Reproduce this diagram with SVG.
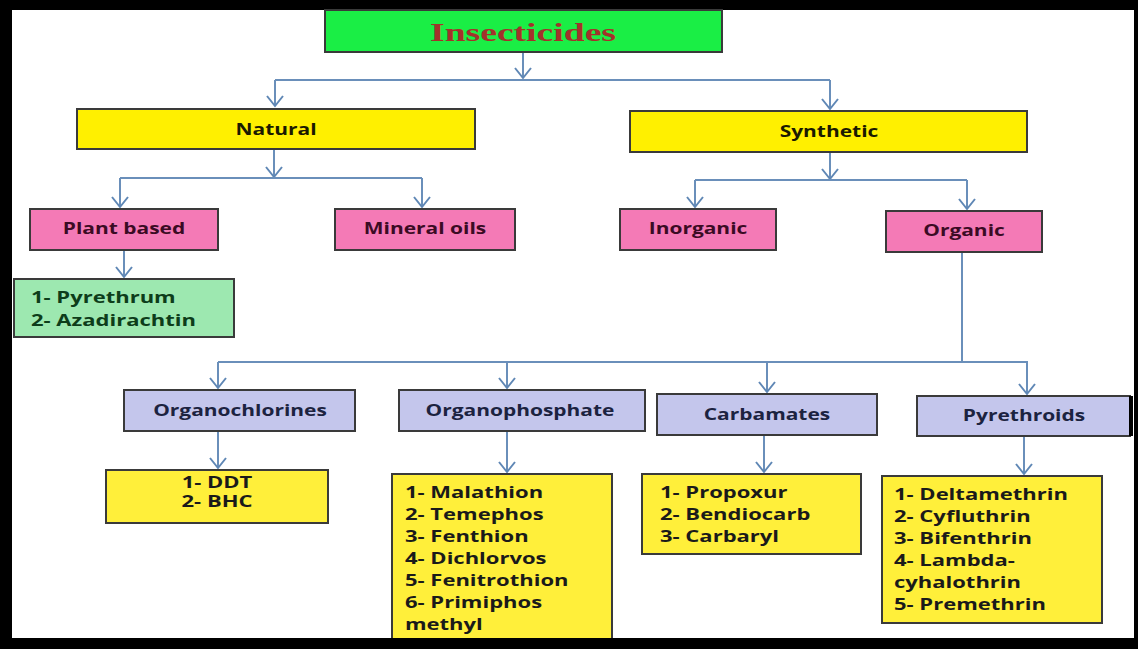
<svg xmlns="http://www.w3.org/2000/svg" width="1138" height="649" viewBox="0 0 1138 649">
<style>
.box{stroke:#3a3a3a;stroke-width:2}
.title{fill:#1aee45}
.yel{fill:#fff000}
.pink{fill:#f47ab6}
.lgreen{fill:#9de8b0}
.lav{fill:#c4c6ec}
.list{fill:#ffef3a}
.lbl{font-family:"Open Sans","Liberation Sans",sans-serif;font-weight:700;font-size:16.5px}
.lst{font-family:"Open Sans","Liberation Sans",sans-serif;font-weight:700;font-size:15.5px}
.c{text-anchor:middle}
.conn{stroke:#6a8fba;stroke-width:2;fill:none}
.arr{marker-end:url(#ah)}
</style>
<defs>
<marker id="ah" markerWidth="24" markerHeight="24" viewBox="-12 -12 24 24" refX="0" refY="0" orient="auto" markerUnits="userSpaceOnUse">
<path d="M-10,-8 L0,0 L-10,8" fill="none" stroke="#5f87b5" stroke-width="2"/>
</marker>
</defs>
<rect x="0" y="0" width="1138" height="649" fill="#000"/>
<rect x="12" y="10" width="1122" height="628" fill="#fff"/>

<g id="connectors">
<path class="conn arr" d="M523,52 V78"/>
<path class="conn" d="M275,80 H830"/>
<path class="conn arr" d="M275,80 V106"/>
<path class="conn arr" d="M830,80 V109"/>
<path class="conn arr" d="M274,149 V177"/>
<path class="conn" d="M120,178 H422"/>
<path class="conn arr" d="M120,178 V207"/>
<path class="conn arr" d="M422,178 V207"/>
<path class="conn arr" d="M830,152 V179"/>
<path class="conn" d="M695,180 H967"/>
<path class="conn arr" d="M695,180 V207"/>
<path class="conn arr" d="M967,180 V209"/>
<path class="conn arr" d="M124,250 V277"/>
<path class="conn" d="M962,252 V362"/>
<path class="conn" d="M218,362 H1028"/>
<path class="conn arr" d="M218,362 V388"/>
<path class="conn arr" d="M507,362 V388"/>
<path class="conn arr" d="M767,362 V392"/>
<path class="conn arr" d="M1027,362 V394"/>
<path class="conn arr" d="M218,431 V468"/>
<path class="conn arr" d="M507,431 V472"/>
<path class="conn arr" d="M764,435 V472"/>
<path class="conn arr" d="M1024,436 V474"/>
</g>

<g id="insecticides">
<rect class="box title" x="325" y="10" width="397" height="42"/>
<text x="523" y="41" text-anchor="middle" textLength="186" lengthAdjust="spacingAndGlyphs" font-family="Liberation Serif, serif" font-weight="700" font-size="25" fill="#a3322b">Insecticides</text>
</g>

<g id="natural">
<rect class="box yel" x="77" y="109" width="398" height="40"/>
<text class="lbl c" fill="#1a1a00" transform="translate(276,135) scale(1.27,1)">Natural</text>
</g>

<g id="synthetic">
<rect class="box yel" x="630" y="111" width="397" height="41"/>
<text class="lbl c" fill="#1a1a00" transform="translate(829,137) scale(1.27,1)">Synthetic</text>
</g>

<g id="plant-based">
<rect class="box pink" x="30" y="209" width="188" height="41"/>
<text class="lbl c" fill="#3b0b24" transform="translate(124,234) scale(1.27,1)">Plant based</text>
</g>

<g id="mineral-oils">
<rect class="box pink" x="335" y="209" width="180" height="41"/>
<text class="lbl c" fill="#3b0b24" transform="translate(425,234) scale(1.27,1)">Mineral oils</text>
</g>

<g id="inorganic">
<rect class="box pink" x="620" y="209" width="156" height="41"/>
<text class="lbl c" fill="#3b0b24" transform="translate(698,234) scale(1.27,1)">Inorganic</text>
</g>

<g id="organic">
<rect class="box pink" x="886" y="211" width="156" height="41"/>
<text class="lbl c" fill="#3b0b24" transform="translate(964,236) scale(1.27,1)">Organic</text>
</g>

<g id="plant-list">
<rect class="box lgreen" x="14" y="279" width="220" height="58"/>
<text class="lst" fill="#0d3d1a" transform="translate(31,0) scale(1.42,1)"><tspan x="0" y="303">1- Pyrethrum</tspan><tspan x="0" y="326">2- Azadirachtin</tspan></text>
</g>

<g id="organochlorines">
<rect class="box lav" x="124" y="390" width="231" height="41"/>
<text class="lbl c" fill="#1c2340" transform="translate(240,416) scale(1.27,1)">Organochlorines</text>
</g>

<g id="organophosphate">
<rect class="box lav" x="399" y="390" width="246" height="41"/>
<text class="lbl c" fill="#1c2340" transform="translate(520,416) scale(1.27,1)">Organophosphate</text>
</g>

<g id="carbamates">
<rect class="box lav" x="657" y="394" width="220" height="41"/>
<text class="lbl c" fill="#1c2340" transform="translate(767,420) scale(1.27,1)">Carbamates</text>
</g>

<g id="pyrethroids">
<rect class="box lav" x="917" y="396" width="213" height="40"/>
<rect x="1129" y="396" width="4" height="40" fill="#000"/>
<text class="lbl c" fill="#1c2340" transform="translate(1024,421) scale(1.27,1)">Pyrethroids</text>
</g>

<g id="organochlorines-list">
<rect class="box list" x="106" y="470" width="222" height="53"/>
<text class="lst c" fill="#1a1a1a" transform="translate(217,0) scale(1.42,1)"><tspan x="0" y="488">1- DDT</tspan><tspan x="0" y="507">2- BHC</tspan></text>
</g>

<g id="organophosphate-list">
<rect class="box list" x="392" y="474" width="220" height="168"/>
<text class="lst" fill="#1a1a1a" transform="translate(405,0) scale(1.42,1)"><tspan x="0" y="498">1- Malathion</tspan><tspan x="0" y="520">2- Temephos</tspan><tspan x="0" y="542">3- Fenthion</tspan><tspan x="0" y="564">4- Dichlorvos</tspan><tspan x="0" y="586">5- Fenitrothion</tspan><tspan x="0" y="608">6- Primiphos</tspan><tspan x="0" y="630">methyl</tspan></text>
</g>

<g id="carbamates-list">
<rect class="box list" x="642" y="474" width="219" height="80"/>
<text class="lst" fill="#1a1a1a" transform="translate(660,0) scale(1.42,1)"><tspan x="0" y="498">1- Propoxur</tspan><tspan x="0" y="520">2- Bendiocarb</tspan><tspan x="0" y="542">3- Carbaryl</tspan></text>
</g>

<g id="pyrethroids-list">
<rect class="box list" x="882" y="476" width="220" height="147"/>
<text class="lst" fill="#1a1a1a" transform="translate(894,0) scale(1.42,1)"><tspan x="0" y="500">1- Deltamethrin</tspan><tspan x="0" y="522">2- Cyfluthrin</tspan><tspan x="0" y="544">3- Bifenthrin</tspan><tspan x="0" y="566">4- Lambda-</tspan><tspan x="0" y="588">cyhalothrin</tspan><tspan x="0" y="610">5- Premethrin</tspan></text>
</g>

<rect x="0" y="638" width="1138" height="11" fill="#000"/>
</svg>
